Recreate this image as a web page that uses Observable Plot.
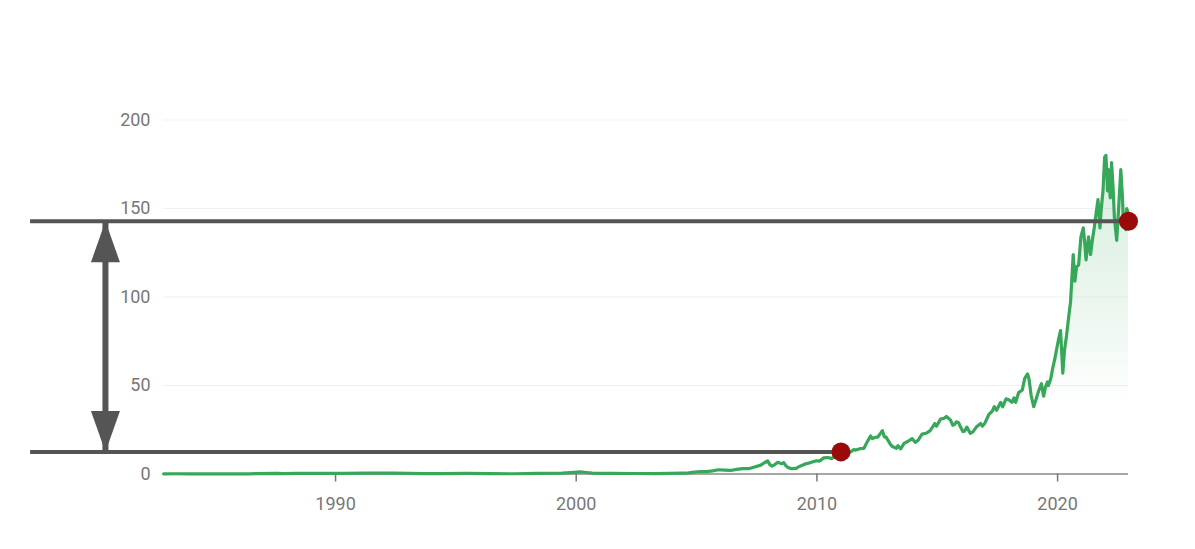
<!DOCTYPE html>
<html>
<head>
<meta charset="utf-8">
<script src="https://cdn.jsdelivr.net/npm/d3@7"></script>
<script src="https://cdn.jsdelivr.net/npm/@observablehq/plot@0.6"></script>
<style>
  html, body { margin: 0; padding: 0; background: #fff; }
  #chart { width: 1195px; height: 549px; }
  svg { font-family: Roboto, "Noto Sans", sans-serif; }
</style>
</head>
<body>
<div id="chart"></div>
<script>
// ---- data ----
const dates = [
  "1982-11-10","1983-06-01","1983-12-01","1984-06-01","1985-06-01","1986-06-01","1987-08-01","1987-11-01",
  "1988-06-01","1989-06-01","1990-06-01","1991-03-01","1991-12-01","1992-06-01","1993-09-01","1994-06-01",
  "1995-06-01","1996-06-01","1997-06-01","1998-06-01","1999-06-01","1999-12-01","2000-03-01","2000-06-01",
  "2000-09-01","2001-01-01","2001-06-01","2002-06-01","2003-04-01","2003-12-01","2004-06-01","2004-09-01",
  "2004-12-01","2005-03-01","2005-06-01","2005-09-01","2005-12-01","2006-03-01","2006-06-01","2006-09-01",
  "2006-12-01","2007-03-01","2007-06-01","2007-09-01","2007-11-01","2007-12-15","2008-01-20","2008-02-20",
  "2008-03-20","2008-05-15","2008-06-15","2008-07-15","2008-08-15","2008-09-20","2008-10-15","2008-11-20",
  "2008-12-20","2009-01-20","2009-02-20","2009-03-20","2009-05-15","2009-07-15","2009-09-15","2009-11-15",
  "2009-12-20","2010-02-10","2010-04-15","2010-06-15","2010-08-15","2010-10-15","2010-12-15","2011-01-05",
  "2011-03-15","2011-05-15","2011-07-15","2011-08-15","2011-10-15","2011-12-15","2012-02-15","2012-03-25",
  "2012-04-20","2012-05-20","2012-07-15","2012-09-20","2012-10-20","2012-11-15","2012-12-15","2013-01-25",
  "2013-02-20","2013-04-20","2013-05-15","2013-06-25","2013-08-15","2013-10-15","2013-12-15","2014-01-30",
  "2014-03-15","2014-05-15","2014-07-15","2014-09-15","2014-11-25","2014-12-20","2015-02-20","2015-04-15",
  "2015-05-20","2015-06-20","2015-07-20","2015-08-25","2015-09-20","2015-10-20","2015-11-20","2015-12-20",
  "2016-01-25","2016-02-20","2016-03-25","2016-05-15","2016-06-25","2016-08-15","2016-10-20","2016-11-15",
  "2016-12-20","2017-02-20","2017-04-15","2017-05-15","2017-06-20","2017-08-20","2017-09-20","2017-11-10",
  "2017-12-20","2018-02-08","2018-03-10","2018-04-05","2018-05-20","2018-07-15","2018-08-20","2018-10-03",
  "2018-10-25","2018-11-25","2019-01-03","2019-02-15","2019-03-20","2019-04-30","2019-06-03","2019-06-30",
  "2019-07-30","2019-08-15","2019-09-20","2019-10-20","2019-11-20","2019-12-20","2020-01-15","2020-02-15",
  "2020-03-20","2020-04-15","2020-05-15","2020-06-15","2020-07-15","2020-08-25","2020-09-20","2020-10-15",
  "2020-11-15","2020-12-20","2021-01-25","2021-02-15","2021-03-08","2021-04-15","2021-05-15","2021-06-15",
  "2021-07-10","2021-08-10","2021-09-05","2021-10-05","2021-10-25","2021-11-20","2021-12-15","2022-01-03",
  "2022-01-15","2022-01-27","2022-02-10","2022-02-25","2022-03-10","2022-03-30","2022-04-20","2022-05-12",
  "2022-05-25","2022-06-16","2022-07-15","2022-08-17","2022-09-10","2022-09-30","2022-10-15","2022-11-03",
  "2022-11-15","2022-12-01","2022-12-12"
];
const prices = [
  0.10,0.15,0.08,0.09,0.07,0.12,0.37,0.22,
  0.33,0.32,0.33,0.50,0.45,0.45,0.20,0.25,
  0.35,0.20,0.13,0.30,0.45,0.90,1.15,0.85,
  0.45,0.30,0.40,0.28,0.22,0.33,0.50,0.60,
  1.10,1.40,1.30,1.80,2.40,2.20,2.00,2.60,
  3.00,3.00,4.00,5.00,6.50,7.40,5.20,4.50,
  5.00,6.60,6.20,5.80,6.40,4.50,3.80,3.20,
  3.00,3.20,3.10,3.90,4.80,5.80,6.30,7.10,
  7.50,7.30,9.10,9.30,8.70,10.50,11.50,12.20,
  12.50,12.20,13.80,13.50,14.30,14.50,19.00,21.50,
  20.00,20.50,21.00,24.50,21.00,20.80,19.00,16.50,
  15.50,14.50,16.00,14.20,17.30,18.50,20.00,17.90,
  19.00,22.50,23.00,24.50,28.50,27.00,31.00,31.50,
  32.50,31.50,30.50,27.50,28.00,29.50,29.00,26.50,
  24.00,24.20,26.50,23.00,23.80,26.50,28.50,27.00,
  28.50,33.50,35.50,38.00,36.00,40.50,38.00,42.50,
  42.00,40.50,43.00,40.50,46.00,47.50,54.00,56.50,
  53.50,44.50,38.00,43.00,47.00,51.00,44.00,49.00,
  52.00,50.00,54.00,60.00,65.00,71.00,76.00,81.00,
  57.00,70.00,78.00,88.00,97.00,124.00,109.00,117.00,
  118.00,134.00,139.00,131.00,121.00,134.00,124.00,133.00,
  139.00,148.00,155.00,139.00,150.00,160.00,179.00,180.00,
  172.00,160.00,172.00,163.00,156.00,176.00,163.00,145.00,
  140.00,132.00,150.00,172.00,157.00,140.00,144.00,138.00,
  150.00,148.00,143.00
];
const markerDates = ["2011-01-01", "2022-12-12"];
const markerValues = [12.5, 142.8];
const annotationStart = "1977-05-01";
const arrowDate = "1980-06-10";
const xDomain = ["1982-11-08", "2022-12-12"];
const yDomain = [0, 200];
const xTickYears = ["1990-01-01", "2000-01-01", "2010-01-01", "2020-01-01"];
const yTicks = [0, 50, 100, 150, 200];

// ---- build ----
const parse = d3.utcParse("%Y-%m-%d");
const series = dates.map((d, i) => ({date: parse(d), value: prices[i]}));
const markers = markerDates.map((d, i) => ({date: parse(d), value: markerValues[i]}));
const startX = parse(annotationStart);
const arrowX = parse(arrowDate);

// custom filled arrowhead symbol: tip at origin, pointing up
const headSymbol = {
  draw(context) {
    context.moveTo(0, 0);
    context.lineTo(14.5, 41);
    context.lineTo(-14.5, 41);
    context.closePath();
  }
};

const green = "#37a85a";
const dark = "#555555";
const textColor = "#777777";

const chart = Plot.plot({
  width: 1195,
  height: 549,
  marginLeft: 163,
  marginRight: 67,
  marginTop: 119.5,
  marginBottom: 75.5,
  x: {type: "utc", domain: xDomain.map(parse)},
  y: {domain: yDomain},
  style: {fontFamily: "Roboto, 'Noto Sans', sans-serif", background: "#fff"},
  marks: [
    Plot.gridY(yTicks.filter(t => t > 0), {stroke: "#000", strokeOpacity: 0.06, strokeWidth: 1}),
    Plot.areaY(series, {x: "date", y: "value", fill: "url(#areaGrad)"}),
    Plot.ruleY([0], {stroke: "#8a8a8a", strokeWidth: 1.5}),
    Plot.axisX({ticks: xTickYears.map(parse), tickFormat: "%Y", tickSize: 8, tickPadding: 15,
      stroke: "#777", strokeWidth: 1.5, fontSize: 18, fill: textColor, label: null}),
    Plot.axisY({ticks: yTicks, tickSize: 0, tickPadding: 13, fontSize: 18, fill: textColor, label: null}),
    Plot.lineY(series, {x: "date", y: "value", stroke: green, strokeWidth: 3.2, strokeLinejoin: "round"}),
    Plot.ruleY(markers, {y: "value", x1: startX, x2: "date", stroke: dark, strokeWidth: 4}),
    Plot.ruleX([arrowX], {x: d => d, y1: markerValues[0], y2: markerValues[1], stroke: dark, strokeWidth: 6}),
    Plot.dot([{date: arrowX, value: markerValues[1]}], {x: "date", y: "value", symbol: headSymbol, r: 5, fill: dark, stroke: "none"}),
    Plot.dot([{date: arrowX, value: markerValues[0]}], {x: "date", y: "value", symbol: headSymbol, rotate: 180, r: 5, fill: dark, stroke: "none"}),
    Plot.dot(markers, {x: "date", y: "value", r: 9.5, fill: "#9b0a0a", stroke: "none"})
  ]
});

// gradient for the area fill
const svg = d3.select(chart);
const defs = svg.insert("defs", ":first-child");
const grad = defs.append("linearGradient")
  .attr("id", "areaGrad").attr("x1", 0).attr("y1", 0).attr("x2", 0).attr("y2", 1);
grad.append("stop").attr("offset", 0).attr("stop-color", green).attr("stop-opacity", 0.2);
grad.append("stop").attr("offset", 0.45).attr("stop-color", green).attr("stop-opacity", 0.1);
grad.append("stop").attr("offset", 0.8).attr("stop-color", green).attr("stop-opacity", 0);

document.getElementById("chart").appendChild(chart);
</script>
</body>
</html>
